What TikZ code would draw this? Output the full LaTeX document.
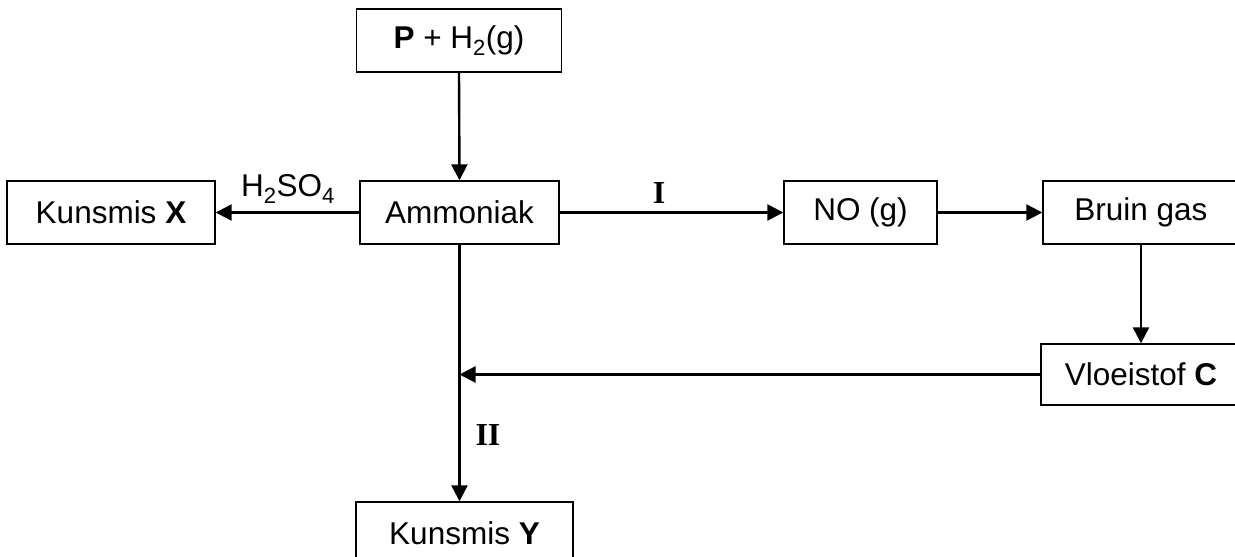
\documentclass[tikz,border=0pt]{standalone}
\usepackage{fontspec}
\setmainfont{Liberation Sans}
\newfontfamily\romanfont{Liberation Serif}
\usetikzlibrary{arrows.meta}
\begin{document}
\begin{tikzpicture}[x=1pt,y=-1pt,
    box/.style={draw, line width=1.4pt, inner sep=0pt, minimum height=63pt, font=\fontsize{31.5}{37}\selectfont},
    flow/.style={line width=2.4pt, -{Triangle[length=16pt,width=16pt]}},
    tag/.style={font=\fontsize{32}{38}\selectfont\romanfont\bfseries}]
    \useasboundingbox (0,0) rectangle (1235,557);
    \clip (0,0) rectangle (1235,557);
    \node[box, minimum width=205pt] (feed) at (459,40.5) {\textbf{P} + H\textsubscript{2}(g)};
    \node[box, minimum width=199pt] (ammoniak) at (459.5,212.5) {Ammoniak};
    \node[box, minimum width=208pt] (kunsmisX) at (111,212.5) {Kunsmis \textbf{X}};
    \node[box, minimum width=153pt] (no) at (860.5,212.5) {NO (g)};
    \node[box, minimum width=196pt] (bruin) at (1141,212.5) {Bruin gas};
    \node[box, minimum width=200pt, minimum height=61pt] (vloeistof) at (1141,374.5) {Vloeistof \textbf{C}};
    \node[box, minimum width=217pt, minimum height=62pt] (kunsmisY) at (464.5,533) {Kunsmis \textbf{Y}};
    \node[font=\fontsize{31.5}{37}\selectfont] (acid) at (288,189) {H\textsubscript{2}SO\textsubscript{4}};
    \node[tag] (stepI) at (659,192.7) {I};
    \node[tag] (stepII) at (488,435) {II};
    \draw[flow] (feed.south) -- (ammoniak.north);
    \draw[flow] (ammoniak.west) -- (kunsmisX.east);
    \draw[flow] (ammoniak.east) -- (no.west);
    \draw[flow] (no.east) -- (bruin.west);
    \draw[flow] (bruin.south) -- (vloeistof.north);
    \draw[flow] (vloeistof.west) -- (vloeistof.west -| ammoniak.south);
    \draw[flow] (ammoniak.south) -- (ammoniak.south |- kunsmisY.north);
\end{tikzpicture}
\end{document}
